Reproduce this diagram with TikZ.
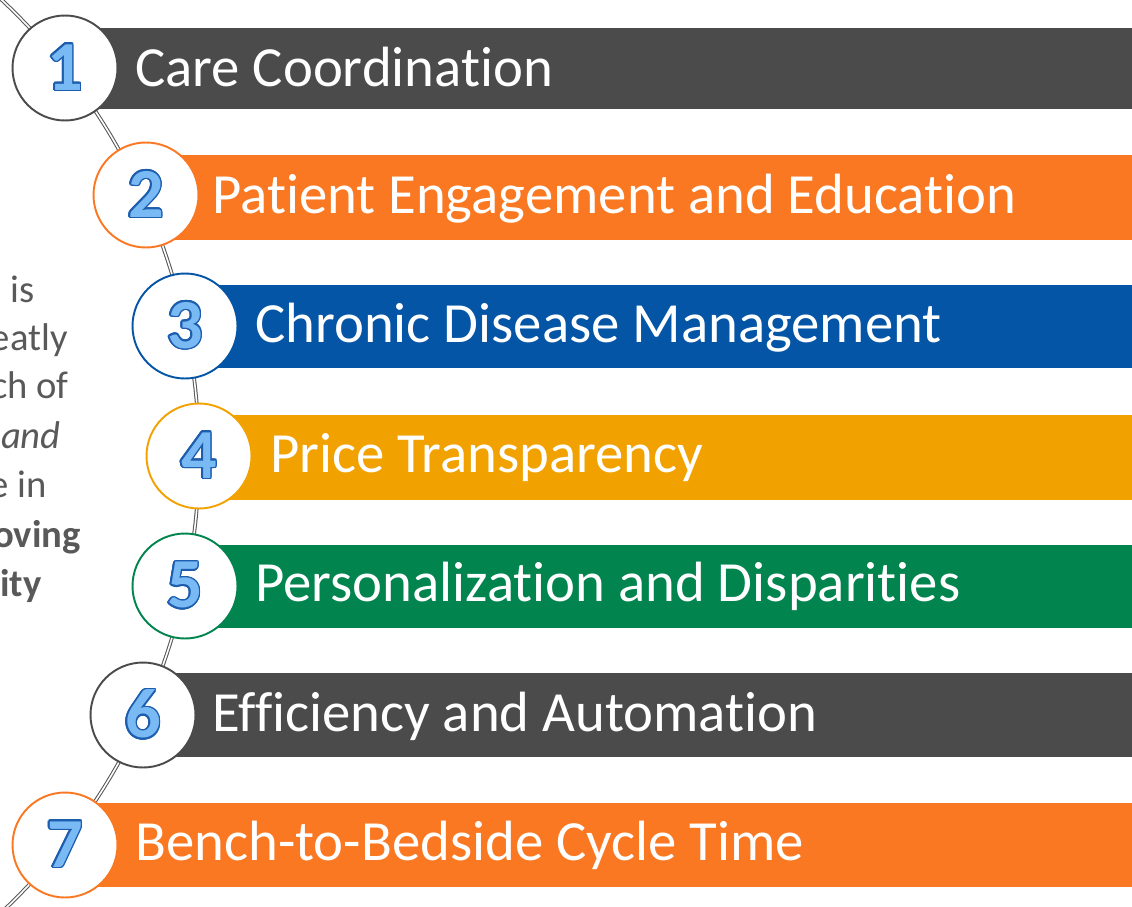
\documentclass[tikz,border=0pt]{standalone}
\usepackage{fontspec}
\setmainfont[Ligatures=NoCommon]{Carlito}
\usepackage{contour}
\usepackage{tikz}

\definecolor{bargray}{HTML}{4B4B4B}
\definecolor{barorange}{HTML}{FA7822}
\definecolor{barblue}{HTML}{0455A6}
\definecolor{baramber}{HTML}{F2A200}
\definecolor{bargreen}{HTML}{01844E}
\definecolor{numdark}{HTML}{1C5DAE}
\definecolor{numlight}{HTML}{79B9F4}
\definecolor{sidetext}{HTML}{595959}
\contourlength{0.9pt}

\tikzset{
	numcircle/.style={circle, draw=#1, fill=white, line width=1.1pt, minimum size=2.1cm, inner sep=0pt, text=numlight, font=\fontsize{40}{40}\selectfont\bfseries},
	bartext/.style={anchor=base west, inner sep=0pt, text=white, font=\fontsize{32.3}{36}\selectfont},
	sidefrag/.style={anchor=base east, inner sep=0pt, text=sidetext, font=\fontsize{22}{26}\selectfont}
}

\begin{document}
\begin{tikzpicture}[x=0.02cm, y=-0.02cm]
			\useasboundingbox (0,0) rectangle (1132,906);
			\draw[draw=gray!70!black, line width=0.6pt, double=white, double distance=0.9pt] plot[domain=-50:50, samples=90] ({-427+626*cos(\x)},{456+626*sin(\x)});
			%text cut at the left
			\node[sidefrag] (s1) at (35,302) {is};
			\node[sidefrag] (s2) at (68,350) {eatly};
			\node[sidefrag] (s3) at (69,398) {ch of};
			\node[sidefrag] (s4) at (61,448) {\itshape and};
			\node[sidefrag] (s5) at (47,497) {e in};
			\node[sidefrag] (s6) at (81,547) {\bfseries oving};
			\node[sidefrag] (s7) at (42,596) {\bfseries ity};
			%bars
			\fill[bargray] (65,28) rectangle (1132,109);
			\fill[barorange] (147,155) rectangle (1132,240);
			\fill[barblue] (185,285) rectangle (1132,368);
			\fill[baramber] (199,415) rectangle (1132,500);
			\fill[bargreen] (185,545) rectangle (1132,628);
			\fill[bargray] (143,673) rectangle (1132,757);
			\fill[barorange] (65,803) rectangle (1132,887);
			%circles
			\node[numcircle=bargray] (c1) at (65,68) {\contour{numdark}{1}};
			\node[numcircle=barorange] (c2) at (146,195) {\contour{numdark}{2}};
			\node[numcircle=barblue] (c3) at (185,326) {\contour{numdark}{3}};
			\node[numcircle=baramber] (c4) at (199,456) {\contour{numdark}{4}};
			\node[numcircle=bargreen] (c5) at (185,586) {\contour{numdark}{5}};
			\node[numcircle=bargray] (c6) at (143,715) {\contour{numdark}{6}};
			\node[numcircle=barorange] (c7) at (65,845) {\contour{numdark}{7}};
			%labels
			\node[bartext] (t1) at (135,86) {Care Coordination};
			\node[bartext] (t2) at (212,213) {Patient Engagement and Education};
			\node[bartext] (t3) at (255,342) {Chronic Disease Management};
			\node[bartext] (t4) at (270,472) {Price Transparency};
			\node[bartext] (t5) at (255,601) {Personalization and Disparities};
			\node[bartext] (t6) at (212,731) {Efficiency and Automation};
			\node[bartext] (t7) at (135,860) {Bench-to-Bedside Cycle Time};
		\end{tikzpicture}
\end{document}
